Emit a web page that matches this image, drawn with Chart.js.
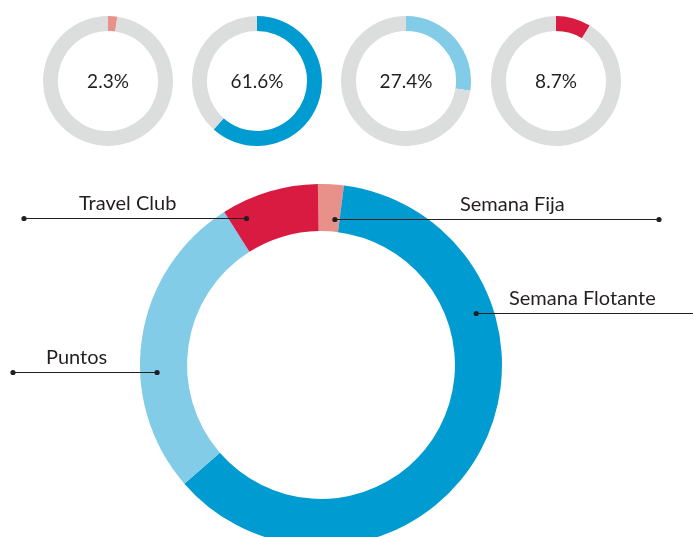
<!DOCTYPE html>
<html>
<head>
<meta charset="utf-8">
<script src="https://cdn.jsdelivr.net/npm/chart.js@4.4.1/dist/chart.umd.min.js"></script>
<style>
  html, body { margin: 0; padding: 0; background: #fff; }
  body { width: 693px; height: 537px; overflow: hidden; position: relative; }
  canvas { position: absolute; }
  #main { left: 0; top: 0; }
</style>
</head>
<body>
<canvas id="main" width="693" height="560"></canvas>
<script>
const categories = ["Semana Fija", "Semana Flotante", "Puntos", "Travel Club"];
const shares = [2.3, 61.6, 27.4, 8.7];
const shareLabels = ["2.3%", "61.6%", "27.4%", "8.7%"];
const sliceColors = ["#e8908a", "#009bd1", "#82cce7", "#d91b42"];
const trackColor = "#dcdddd";
const inkColor = "#231f20";

// leader lines: fraction along the slice, fraction across the ring
const leaders = [
  { along: 0.78, across: 0.26, endX: 659, endDot: true, textX: 460 },
  { along: 0.29, across: 0.63, endX: 693, endDot: false, textX: 509 },
  { along: 0.39, across: 0.64, endX: 13, endDot: true, textX: 46 },
  { along: 0.175, across: 0.66, endX: 24, endDot: true, textX: 79 },
];

// small rings along the top
const miniCenters = [108, 257, 406, 556];
const miniTop = 16;
const miniSize = 130;

function dot(ctx, x, y) {
  ctx.beginPath();
  ctx.arc(x, y, 2.6, 0, Math.PI * 2);
  ctx.fill();
}

const leaderPlugin = {
  id: "leaders",
  afterDatasetsDraw(chart) {
    const ctx = chart.ctx;
    const arcs = chart.getDatasetMeta(0).data;
    ctx.save();
    ctx.strokeStyle = inkColor;
    ctx.fillStyle = inkColor;
    ctx.lineWidth = 1;
    ctx.font = "20px Lato";
    ctx.textBaseline = "middle";
    ctx.textAlign = "left";
    arcs.forEach((arc, i) => {
      const l = leaders[i];
      const p = arc.getProps(["x", "y", "startAngle", "endAngle", "innerRadius", "outerRadius"], true);
      const a = p.startAngle + (p.endAngle - p.startAngle) * l.along;
      const r = p.innerRadius + (p.outerRadius - p.innerRadius) * l.across;
      const px = p.x + r * Math.cos(a);
      const py = Math.round(p.y + r * Math.sin(a)) + 0.5;
      ctx.beginPath();
      ctx.moveTo(px, py);
      ctx.lineTo(l.endX, py);
      ctx.stroke();
      dot(ctx, px, py);
      if (l.endDot) dot(ctx, l.endX, py);
      ctx.fillText(categories[i], l.textX, py - 15);
    });
    ctx.restore();
  }
};

new Chart(document.getElementById("main"), {
  type: "doughnut",
  data: {
    labels: categories,
    datasets: [{
      data: shares,
      backgroundColor: sliceColors,
      borderWidth: 0,
      hoverOffset: 0
    }]
  },
  options: {
    responsive: false,
    animation: false,
    events: [],
    rotation: -1,
    cutout: "74%",
    layout: { padding: { left: 140, top: 184, right: 191, bottom: 14 } },
    plugins: { legend: { display: false }, tooltip: { enabled: false } }
  },
  plugins: [leaderPlugin]
});

shares.forEach((v, i) => {
  const c = document.createElement("canvas");
  c.width = miniSize;
  c.height = miniSize;
  c.style.left = (miniCenters[i] - miniSize / 2) + "px";
  c.style.top = miniTop + "px";
  document.body.appendChild(c);

  const centerText = {
    id: "centerText",
    afterDraw(chart) {
      const arc = chart.getDatasetMeta(0).data[0];
      const ctx = chart.ctx;
      ctx.save();
      ctx.fillStyle = inkColor;
      ctx.font = "19px Lato";
      ctx.textAlign = "center";
      ctx.textBaseline = "middle";
      ctx.fillText(shareLabels[i], arc.x, arc.y + 1);
      ctx.restore();
    }
  };

  new Chart(c, {
    type: "doughnut",
    data: {
      labels: [categories[i], ""],
      datasets: [{
        data: [v, 100 - v],
        backgroundColor: [sliceColors[i], trackColor],
        borderWidth: 0,
        hoverOffset: 0
      }]
    },
    options: {
      responsive: false,
      animation: false,
      events: [],
      cutout: "77%",
      plugins: { legend: { display: false }, tooltip: { enabled: false } }
    },
    plugins: [centerText]
  });
});
</script>
</body>
</html>
